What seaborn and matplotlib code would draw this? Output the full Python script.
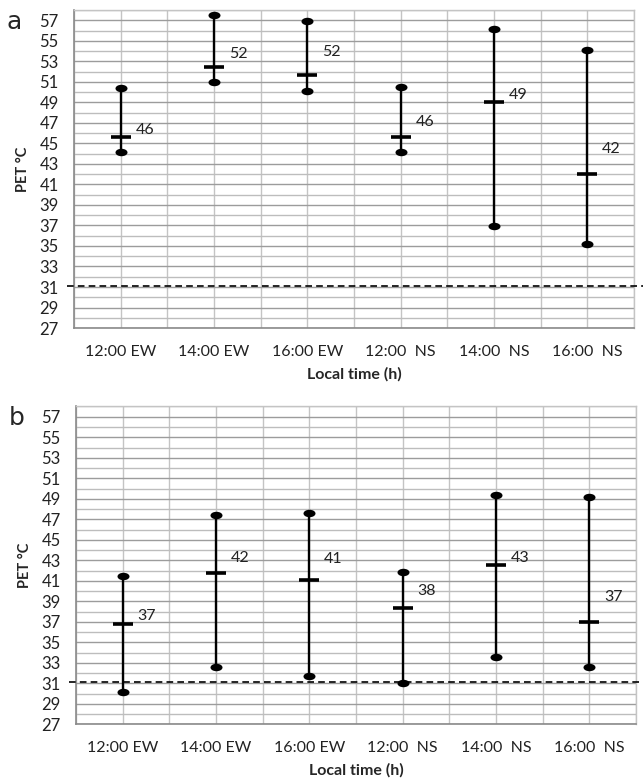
import numpy as np
import pandas as pd
import matplotlib
matplotlib.use("Agg")
import matplotlib.pyplot as plt
from matplotlib.path import Path
from matplotlib.ticker import MultipleLocator
import seaborn as sns

times = ["12:00 EW", "14:00 EW", "16:00 EW", "12:00  NS", "14:00  NS", "16:00  NS"]

# panel a: min, mean, max PET (deg C)
a_low = [44.2, 51.0, 50.1, 44.2, 36.9, 35.2]
a_mean = [45.6, 52.4, 51.7, 45.6, 49.0, 42.0]
a_high = [50.4, 57.5, 56.9, 50.5, 56.2, 54.1]
a_labels = ["46", "52", "52", "46", "49", "42"]

# panel b
b_low = [30.2, 32.6, 31.7, 31.0, 33.6, 32.6]
b_mean = [36.8, 41.8, 41.1, 38.4, 42.5, 37.0]
b_high = [41.5, 47.4, 47.6, 41.9, 49.4, 49.2]
b_labels = ["37", "42", "41", "38", "43", "37"]

threshold = 31.1

# vertical nudges of the value labels above the mean bar
a_label_dy = [0.75, 1.35, 2.2, 1.5, 0.7, 2.5]
b_label_dy = [0.8, 1.4, 2.05, 1.6, 0.7, 2.45]

sns.set_theme(style="white")
plt.rcParams["font.family"] = ["Lato", "DejaVu Sans"]

circ = Path.unit_circle()
ellipse = Path(circ.vertices * np.array([1.0, 0.62]), circ.codes)


def draw_panel(ax, low, mean, high, labels, label_dy, letter):
    df = pd.DataFrame({
        "time": times * 3,
        "pet": low + mean + high,
    })
    # median of (low, mean, high) is the mean; 100% interval spans low..high
    sns.pointplot(data=df, x="time", y="pet", order=times, estimator="median",
                  errorbar=("pi", 100), color="black", marker="_", markersize=15,
                  markeredgewidth=2.6, linestyle="none",
                  err_kws={"linewidth": 1.7}, ax=ax, zorder=4)
    ends = pd.DataFrame({"time": times * 2, "pet": low + high})
    sns.scatterplot(data=ends, x="time", y="pet", marker=ellipse, s=75,
                    color="black", edgecolor="black", linewidth=0, ax=ax, zorder=5)

    for i, (lab, m, dy) in enumerate(zip(labels, mean, label_dy)):
        ax.text(i + 0.16, m + dy, lab, ha="left", va="center", fontsize=11.5, color="#222222")

    ax.plot([-0.58, 5.6], [threshold, threshold], color="black", linestyle=(0, (4, 2.5)),
            linewidth=1.2, clip_on=False, zorder=3)

    ax.set_xlim(-0.5, 5.5)
    ax.set_ylim(27, 58)
    ax.set_yticks(np.arange(27, 58, 2))
    ax.yaxis.set_minor_locator(MultipleLocator(1))
    ax.set_xticks(range(len(times)))
    ax.set_xticklabels(times)
    ax.set_xticks(np.arange(-0.5, 6, 1), minor=True)

    ax.grid(True, which="major", axis="y", color="#9c9c9c", linewidth=1.0, zorder=0)
    ax.grid(True, which="minor", axis="y", color="#bdbdbd", linewidth=1.0, zorder=0)
    ax.grid(True, which="both", axis="x", color="#c4c4c4", linewidth=1.0, zorder=0)
    ax.set_axisbelow(True)

    ax.tick_params(axis="y", which="both", length=0, pad=11, labelsize=12, labelcolor="#222222")
    ax.tick_params(axis="x", which="major", length=4, width=1, color="#8a8a8a",
                   direction="out", pad=8, labelsize=11.5, labelcolor="#222222")
    ax.tick_params(axis="x", which="minor", length=0)

    for side in ["left", "bottom"]:
        ax.spines[side].set_color("#8a8a8a")
        ax.spines[side].set_linewidth(1.2)
    for side in ["top", "right"]:
        ax.spines[side].set_color("#c4c4c4")
        ax.spines[side].set_linewidth(1.0)

    ax.set_xlabel("Local time (h)", fontsize=11.5, fontweight="bold", labelpad=6)
    ax.set_ylabel("PET °C", fontsize=10.5, fontweight="bold", labelpad=7)
    ax.text(-0.12, 1.0, letter, transform=ax.transAxes, fontsize=18,
            family=["DejaVu Sans"], ha="left", va="top")


fig = plt.figure(figsize=(6.43, 7.79), dpi=100)
ax_a = fig.add_axes([0.1151, 0.5789, 0.8709, 0.4082])
ax_b = fig.add_axes([0.1182, 0.0700, 0.8709, 0.4082])

draw_panel(ax_a, a_low, a_mean, a_high, a_labels, a_label_dy, "a")
draw_panel(ax_b, b_low, b_mean, b_high, b_labels, b_label_dy, "b")

fig.savefig("out.png", dpi=100)
